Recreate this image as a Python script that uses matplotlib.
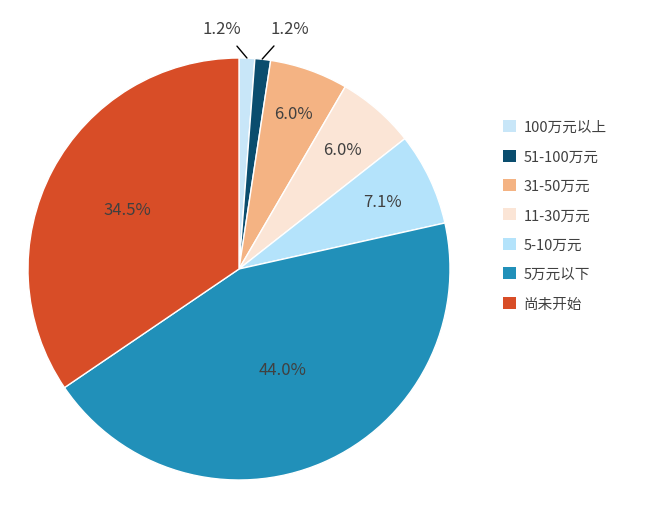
import numpy as np
import matplotlib.pyplot as plt
from matplotlib.patches import Patch

plt.rcParams['font.family'] = ['Noto Sans CJK SC', 'DejaVu Sans']

labels = ["100万元以上", "51-100万元", "31-50万元", "11-30万元", "5-10万元", "5万元以下", "尚未开始"]
values = [1.2, 1.2, 6.0, 6.0, 7.1, 44.0, 34.5]
colors = ["#c8e6f8", "#0a4d6e", "#f4b383", "#fbe5d6", "#b4e3fb", "#2190b9", "#d84d27"]
dists = [None, None, 0.78, 0.75, 0.75, 0.52, 0.6]

fig = plt.figure(figsize=(6.62, 5.1), dpi=100)
cx, cy, r = 239, 270, 211
ax = fig.add_axes([(cx - r) / 662, (510 - cy - r) / 510, 2 * r / 662, 2 * r / 510])
wedges, _ = ax.pie(values, colors=colors, startangle=90, counterclock=False,
                   wedgeprops=dict(edgecolor="white", linewidth=1))
ax.set_xlim(-1, 1)
ax.set_ylim(-1, 1)

tc = "#404040"
for w, v, d in zip(wedges, values, dists):
    ang = np.deg2rad((w.theta1 + w.theta2) / 2)
    x, y = np.cos(ang), np.sin(ang)
    if d is not None:
        ax.text(d * x, d * y, f"{v:.1f}%", ha="center", va="center", fontsize=12, color=tc)

# small slices with leader lines
ax.annotate("1.2%", xy=(np.cos(np.deg2rad(wedges[0].theta1 / 2 + wedges[0].theta2 / 2)), 1.0),
            xytext=(-0.08, 1.14), ha="center", va="center", fontsize=12, color=tc,
            arrowprops=dict(arrowstyle="-", color="black", lw=1, shrinkA=6, shrinkB=0))
ax.annotate("1.2%", xy=(0.11, 0.995), xytext=(0.24, 1.14), ha="center", va="center",
            fontsize=12, color=tc,
            arrowprops=dict(arrowstyle="-", color="black", lw=1, shrinkA=6, shrinkB=0))

handles = [Patch(facecolor=c, edgecolor="none") for c in colors]
fig.legend(handles, labels, loc="upper left", bbox_to_anchor=(490 / 662, 1 - 108 / 510),
           frameon=False, fontsize=10.5, handlelength=0.9, handleheight=0.9,
           handletextpad=0.5, labelspacing=1.05, labelcolor=tc)

fig.savefig("out.png", dpi=100)
